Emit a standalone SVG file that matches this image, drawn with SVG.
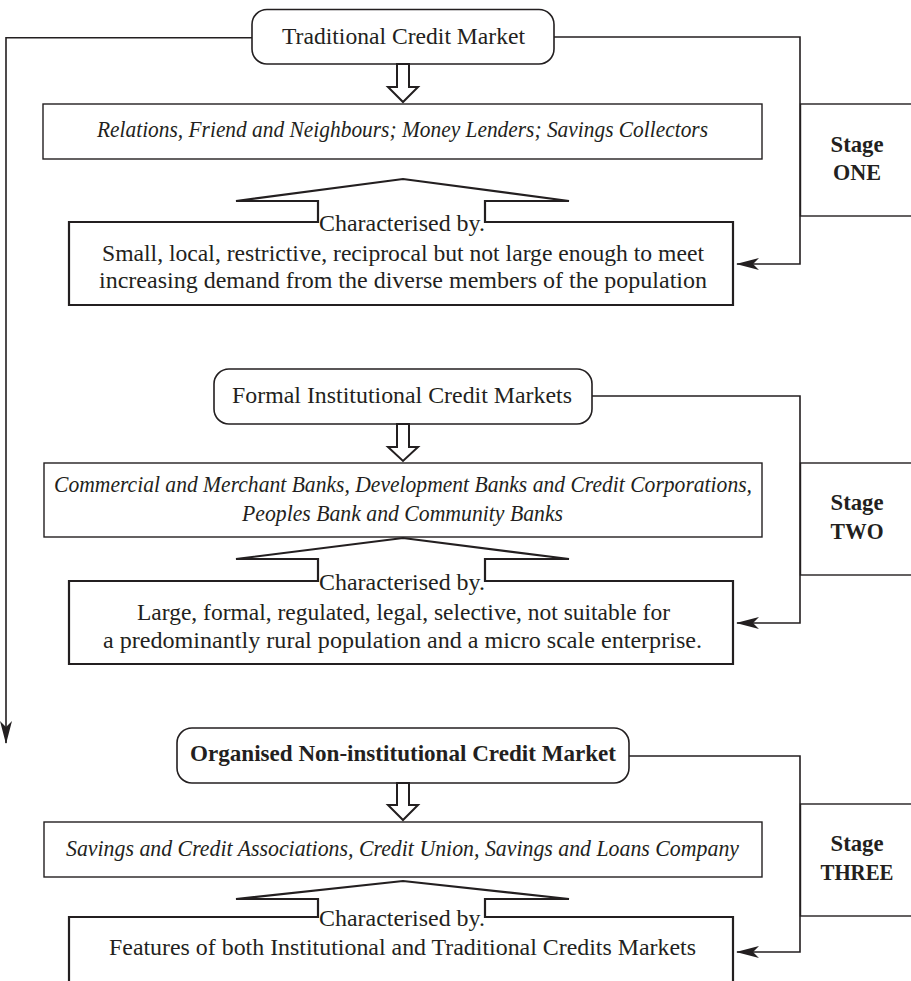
<svg xmlns="http://www.w3.org/2000/svg" width="911" height="981" viewBox="0 0 911 981">
<style>
text{font-family:"Liberation Serif","Times New Roman",serif;font-size:24px;fill:#231f20}
.it{font-style:italic}
.b{font-weight:bold}
.mid{text-anchor:middle}
.rbox{fill:#fff;stroke:#231f20;stroke-width:1.6}
.box{fill:#fff;stroke:#231f20;stroke-width:1.4}
.call{fill:#fff;stroke:#231f20;stroke-width:2.2;stroke-linejoin:miter}
.hollow{fill:#fff;stroke:#231f20;stroke-width:2}
.con{fill:none;stroke:#231f20;stroke-width:1.6}
</style>
<defs>
<marker id="ah" viewBox="0 0 23 12" refX="22" refY="6" markerWidth="23" markerHeight="12" markerUnits="userSpaceOnUse" orient="auto">
<path d="M0,0 L23,6 L0,12 L6,6 Z" fill="#231f20"/>
</marker>
</defs>
<rect width="911" height="981" fill="#fff"/>

<g id="connectors">
<polyline class="con" points="252,37.7 6,37.7 6,743" marker-end="url(#ah)"/>
<polyline class="con" points="554,37 800,37 800,264 737,264" marker-end="url(#ah)"/>
<polyline class="con" points="592,396 800,396 800,623 737,623" marker-end="url(#ah)"/>
<polyline class="con" points="629,756 800,756 800,952 737,952" marker-end="url(#ah)"/>
</g>

<g id="stage1">
<rect class="box" x="800.5" y="104" width="140" height="112"/>
<text class="b mid" x="857" y="152" textLength="53" lengthAdjust="spacingAndGlyphs">Stage</text>
<text class="b mid" x="857" y="180" textLength="48" lengthAdjust="spacingAndGlyphs">ONE</text>
</g>
<g id="traditional">
<rect class="rbox" x="252" y="9.5" width="302" height="54.5" rx="15"/>
<text x="282" y="44" textLength="243" lengthAdjust="spacingAndGlyphs">Traditional Credit Market</text>
</g>
<g id="arrow1">
<polygon class="hollow" points="397,64 397,87 388,87 403,102 418,87 409,87 409,64"/>
</g>
<g id="relations">
<rect class="box" x="43" y="104" width="719" height="55"/>
<text class="it" x="97" y="137" textLength="611" lengthAdjust="spacingAndGlyphs">Relations, Friend and Neighbours; Money Lenders; Savings Collectors</text>
</g>
<g id="char1">
<polygon class="call" points="69,222 318,222 318,201 236,201 403,179 569,201 485,201 485,222 733,222 733,305 69,305"/>
<text x="319" y="231" textLength="166" lengthAdjust="spacingAndGlyphs">Characterised by.</text>
<text x="102" y="261" textLength="602" lengthAdjust="spacingAndGlyphs">Small, local, restrictive, reciprocal but not large enough to meet</text>
<text x="99" y="288" textLength="608" lengthAdjust="spacingAndGlyphs">increasing demand from the diverse members of the population</text>
</g>

<g id="stage2">
<rect class="box" x="800.5" y="463" width="140" height="112"/>
<text class="b mid" x="857" y="510" textLength="53" lengthAdjust="spacingAndGlyphs">Stage</text>
<text class="b mid" x="857" y="539" textLength="53" lengthAdjust="spacingAndGlyphs">TWO</text>
</g>
<g id="formal">
<rect class="rbox" x="214" y="369" width="378" height="55" rx="15"/>
<text x="232" y="403" textLength="340" lengthAdjust="spacingAndGlyphs">Formal Institutional Credit Markets</text>
</g>
<g id="arrow2">
<polygon class="hollow" points="397,424 397,447 388,447 403,461 418,447 409,447 409,424"/>
</g>
<g id="commercial">
<rect class="box" x="44" y="463" width="718" height="74"/>
<text class="it" x="54" y="492" textLength="698" lengthAdjust="spacingAndGlyphs">Commercial and Merchant Banks, Development Banks and Credit Corporations,</text>
<text class="it" x="242" y="521" textLength="321" lengthAdjust="spacingAndGlyphs">Peoples Bank and Community Banks</text>
</g>
<g id="char2">
<polygon class="call" points="69,581 318,581 318,559 236,559 403,538 569,559 485,559 485,581 733,581 733,664 69,664"/>
<text x="319" y="590" textLength="166" lengthAdjust="spacingAndGlyphs">Characterised by.</text>
<text x="137" y="620" textLength="533" lengthAdjust="spacingAndGlyphs">Large, formal, regulated, legal, selective, not suitable for</text>
<text x="103" y="648" textLength="599" lengthAdjust="spacingAndGlyphs">a predominantly rural population and a micro scale enterprise.</text>
</g>

<g id="stage3">
<rect class="box" x="800.5" y="804" width="140" height="112"/>
<text class="b mid" x="857" y="851" textLength="53" lengthAdjust="spacingAndGlyphs">Stage</text>
<text class="b mid" x="857" y="880" textLength="73" lengthAdjust="spacingAndGlyphs">THREE</text>
</g>
<g id="organised">
<rect class="rbox" x="177" y="728" width="452" height="55" rx="15"/>
<text class="b" x="190" y="761" textLength="426" lengthAdjust="spacingAndGlyphs">Organised Non-institutional Credit Market</text>
</g>
<g id="arrow3">
<polygon class="hollow" points="397,783 397,805 388,805 403,820 418,805 409,805 409,783"/>
</g>
<g id="savings">
<rect class="box" x="44" y="822" width="718" height="55"/>
<text class="it" x="66" y="856" textLength="673" lengthAdjust="spacingAndGlyphs">Savings and Credit Associations, Credit Union, Savings and Loans Company</text>
</g>
<g id="char3">
<polygon class="call" points="69,917 318,917 318,899 236,899 403,881 569,899 485,899 485,917 733,917 733,1000 69,1000"/>
<text x="319" y="926" textLength="166" lengthAdjust="spacingAndGlyphs">Characterised by.</text>
<text x="109" y="955" textLength="587" lengthAdjust="spacingAndGlyphs">Features of both Institutional and Traditional Credits Markets</text>
</g>
</svg>
